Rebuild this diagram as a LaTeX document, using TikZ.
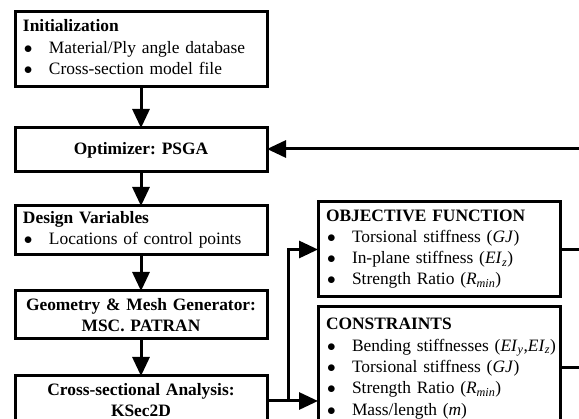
\documentclass[tikz,border=0pt]{standalone}
\usepackage{fontspec}
\setmainfont{Liberation Serif}
\usetikzlibrary{arrows.meta,calc}
\frenchspacing
\newcommand\bul[1]{\hspace*{1pt}\makebox[25pt][l]{$\bullet$}\mbox{#1}}
\newcommand\fs{\fontsize{17.4}{21.3}\selectfont}
\newcommand\st{\rule{0pt}{12pt}}
\newcommand\sd{\rule[-5pt]{0pt}{0pt}}
\begin{document}
\begin{tikzpicture}[x=1pt,y=-1pt,
  box/.style={draw, line width=3pt, rectangle, anchor=north west, outer sep=0pt,
    inner xsep=8pt, inner ysep=0pt, font=\fs},
  lbox/.style={box, align=left},
  cbox/.style={box, align=center, font=\fs\bfseries},
  arr/.style={line width=3pt, -{Triangle[length=19pt,width=17pt]}},
  ln/.style={line width=3pt}]
\useasboundingbox (0,0) rectangle (579,419);
\clip (0,0) rectangle (579,419);

\node[lbox, text width=236pt, minimum height=75pt] (init) at (15,12)
  {\st\textbf{Initialization}\\ \bul{Material/Ply angle database}\\ \bul{Cross-section model file}\sd};
\node[cbox, text width=236pt, minimum height=44pt] (opt) at (15,128)
  {Optimizer: PSGA};
\node[lbox, text width=236pt, minimum height=49pt] (dv) at (15,206)
  {\st\textbf{Design Variables}\\ \bul{Locations of control points}\sd};
\node[cbox, text width=236pt, minimum height=48pt] (geo) at (15,291)
  {Geometry \& Mesh Generator:\\ MSC. PATRAN};
\node[cbox, text width=236pt, inner ysep=7pt] (cs) at (15,376)
  {\st Cross-sectional Analysis:\\ KSec2D\rule[-40pt]{0pt}{0pt}};
\node[lbox, text width=226pt, minimum height=95pt] (obj) at (318,202)
  {\st\textbf{OBJECTIVE FUNCTION}\\
   \bul{Torsional stiffness (\textit{GJ})}\\
   \bul{In-plane stiffness (\textit{EI}\textsubscript{\textit{z}})}\\
   \bul{Strength Ratio (\textit{R}\textsubscript{\textit{min}})}\sd};
\node[lbox, text width=226pt, inner ysep=11pt] (con) at (318,307)
  {\st\textbf{CONSTRAINTS}\\
   \bul{Bending stiffnesses (\textit{EI}\textsubscript{\textit{y}},\textit{EI}\textsubscript{\textit{z}})}\\
   \bul{Torsional stiffness (\textit{GJ})}\\
   \bul{Strength Ratio (\textit{R}\textsubscript{\textit{min}})}\\
   \bul{Mass/length (\textit{m})}\rule[-40pt]{0pt}{0pt}};

\coordinate (fb) at (600,149);
\coordinate (j) at (288,401);
\coordinate (oe) at (600,250);
\coordinate (ce) at (600,368);

\draw[arr] (init.south) -- (opt.north);
\draw[arr] (opt.south) -- (dv.north);
\draw[arr] (dv.south) -- (geo.north);
\draw[arr] (geo.south) -- (cs.north);
\draw[arr] (fb) -- (fb -| opt.east);
\draw[ln] (cs.east |- j) -- (j);
\draw[arr] (j) -- (j -| con.west);
\draw[arr] (j) |- (obj.west);
\draw[ln] (obj.east |- oe) -- (oe);
\draw[ln] (con.east |- ce) -- (ce);
\end{tikzpicture}
\end{document}
